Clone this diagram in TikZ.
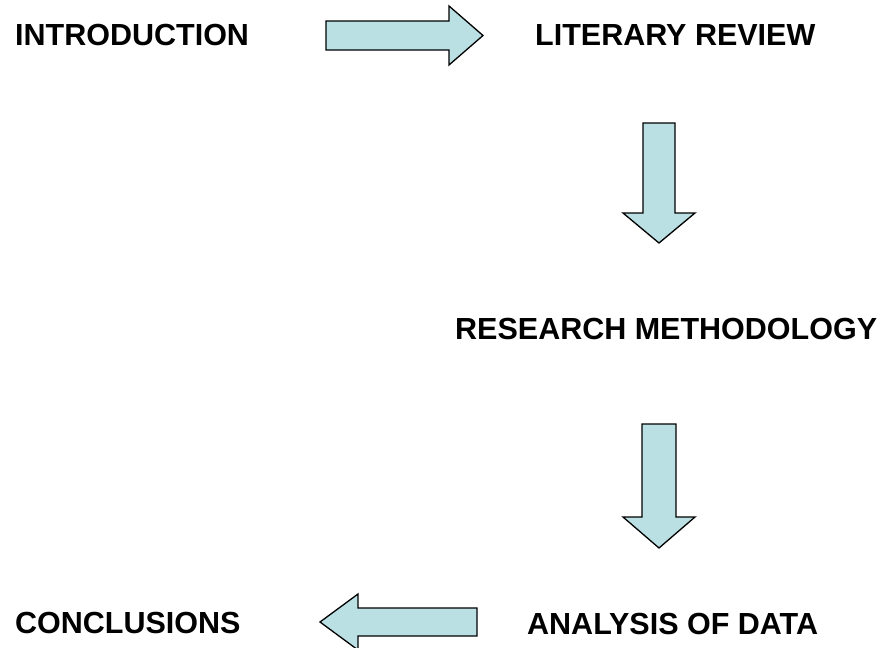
\documentclass[tikz,border=0pt]{standalone}
\usepackage{fontspec}
\setmainfont{Liberation Sans}
\begin{document}
\begin{tikzpicture}[x=1pt,y=-1pt,
  lbl/.style={font=\fontsize{30.5}{36}\selectfont\bfseries, inner sep=0pt, anchor=base west},
  blockarrow/.style={draw=black, line width=1.3pt, fill={rgb,255:red,187;green,224;blue,227}, line join=miter}]
\useasboundingbox (0,0) rectangle (889,648);
\node[lbl] (intro) at (15,45) {INTRODUCTION};
\node[lbl] (lit) at (535,45) {LITERARY REVIEW};
\node[lbl] (res) at (455,339) {RESEARCH METHODOLOGY};
\node[lbl] (ana) at (527,634) {ANALYSIS OF DATA};
\node[lbl] (con) at (15,633) {CONCLUSIONS};
% right arrow
\draw[blockarrow] (326,21) -- (449,21) -- (449,6) -- (483,35.5) -- (449,65) -- (449,50) -- (326,50) -- cycle;
% down arrow 1
\draw[blockarrow] (643,123) -- (675,123) -- (675,213) -- (695,213) -- (659,243) -- (623,213) -- (643,213) -- cycle;
% down arrow 2
\draw[blockarrow] (642,424) -- (676,424) -- (676,517) -- (695,517) -- (659,548) -- (623,517) -- (642,517) -- cycle;
% left arrow
\draw[blockarrow] (477,608) -- (358,608) -- (358,594) -- (320,622) -- (358,650) -- (358,636) -- (477,636) -- cycle;
\end{tikzpicture}
\end{document}
